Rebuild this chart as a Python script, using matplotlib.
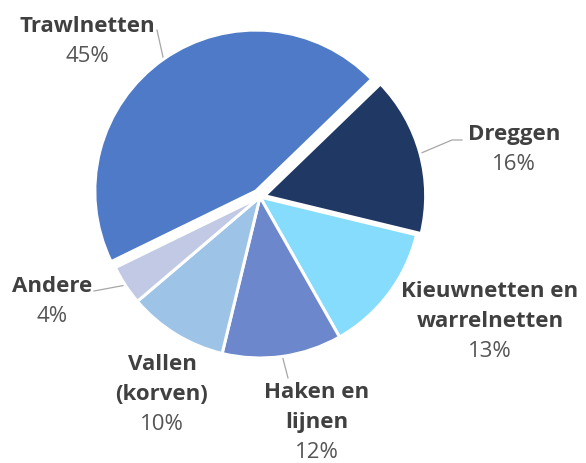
import numpy as np
import matplotlib.pyplot as plt

# gear types, clockwise from the upper right
gears = ["Dreggen", "Kieuwnetten en\nwarrelnetten", "Haken en\nlijnen",
         "Vallen\n(korven)", "Andere", "Trawlnetten"]
shares = [16, 13, 12, 10, 4, 45]
colors = ["#203864", "#86dcfc", "#6c87cb", "#9dc3e6", "#c1c9e5", "#4e7ac7"]
explode = [0.03, 0, 0, 0, 0, 0.045]  # fraction of the radius

W, H = 586, 463
fig = plt.figure(figsize=(W / 100, H / 100), dpi=100)
ax = fig.add_axes([0, 0, 1, 1])

cx, cy, r = 260, H - 197, 161
wedges, _ = ax.pie(
    shares,
    colors=colors,
    explode=[e * r for e in explode],  # pie offsets in data units
    startangle=44,
    counterclock=False,
    center=(cx, cy),
    radius=r,
    wedgeprops=dict(edgecolor="white", linewidth=2.2),
)
ax.set_xlim(0, W)
ax.set_ylim(0, H)
ax.set_aspect("equal")
ax.axis("off")

# label layout: x centre, baseline of first line (pixels from top), leader end
layout = {
    "Dreggen": (514, 140, [(452, 140), (462, 140)]),
    "Kieuwnetten en\nwarrelnetten": (490, 297, None),
    "Haken en\nlijnen": (317, 398, [(288, 378)]),
    "Vallen\n(korven)": (162, 370, None),
    "Andere": (52, 292, [(94, 291)]),
    "Trawlnetten": (87, 32, [(157, 30)]),
}
line_h = 30
name_kw = dict(family="Open Sans", fontsize=16, fontweight="bold", color="#404040",
               ha="center", va="baseline")
pct_kw = dict(family="Open Sans", fontsize=16, color="#555555",
              ha="center", va="baseline")

for w, name, pct in zip(wedges, gears, shares):
    x, y0, leader = layout[name]
    lines = name.split("\n")
    for i, ln in enumerate(lines):
        ax.text(x, H - (y0 + i * line_h), ln, **name_kw)
    ax.text(x, H - (y0 + len(lines) * line_h), f"{pct}%", **pct_kw)
    if leader:
        mid = np.deg2rad((w.theta1 + w.theta2) / 2)
        px = w.center[0] + r * np.cos(mid)
        py = w.center[1] + r * np.sin(mid)
        xs = [px] + [p[0] for p in leader]
        ys = [py] + [H - p[1] for p in leader]
        ax.plot(xs, ys, color="#a6a6a6", lw=0.9, zorder=0)

fig.savefig("out.png", dpi=100)
